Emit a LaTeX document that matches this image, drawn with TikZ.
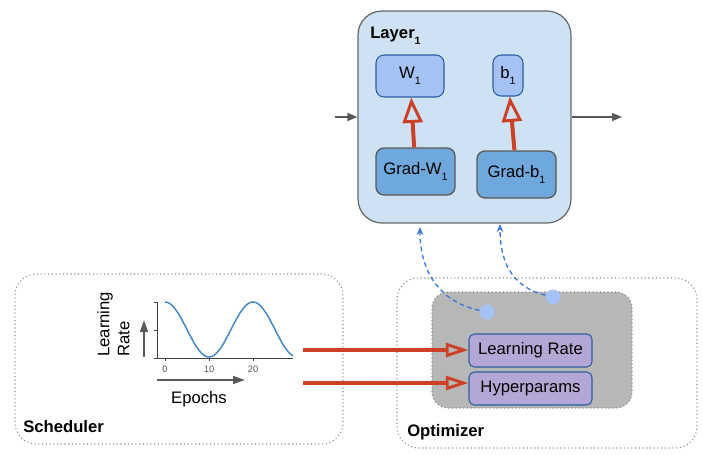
\documentclass[tikz,border=0pt]{standalone}
\usepackage{fontspec}
\setmainfont{Liberation Sans}
\usetikzlibrary{arrows.meta}
\definecolor{layerfill}{HTML}{CFE2F3}
\definecolor{layeredge}{HTML}{666666}
\definecolor{paramfill}{HTML}{A4C2F4}
\definecolor{paramedge}{HTML}{2A5F9E}
\definecolor{gradfill}{HTML}{6FA8DC}
\definecolor{gradedge}{HTML}{595959}
\definecolor{hyperfill}{HTML}{B4A7D6}
\definecolor{corefill}{HTML}{B7B7B7}
\definecolor{coreedge}{HTML}{858585}
\definecolor{groupedge}{HTML}{8A8A8A}
\definecolor{updred}{HTML}{CC4125}
\definecolor{linkblue}{HTML}{3C78D8}
\definecolor{flowgray}{HTML}{595959}
\definecolor{curveblue}{HTML}{3F88C5}
\newcommand\lowsub[1]{\raisebox{-4.5pt}{\fontsize{8}{8}\selectfont #1}}
\tikzset{
  layerbox/.style={draw=layeredge, fill=layerfill, line width=0.9pt, rounded corners=18pt, inner sep=0pt, minimum width=159.75pt, minimum height=159pt},
  param/.style={draw=paramedge, fill=paramfill, line width=0.8pt, rounded corners=6pt, inner sep=0pt},
  grad/.style={draw=gradedge, fill=gradfill, line width=1pt, rounded corners=6pt, inner sep=0pt, minimum width=59.25pt, minimum height=35.25pt},
  hyper/.style={draw=paramedge, fill=hyperfill, line width=0.8pt, rounded corners=4pt, inner sep=0pt, minimum width=92.25pt, minimum height=24.75pt},
  group/.style={draw=groupedge, dotted, line width=0.8pt, rounded corners=16pt, inner sep=0pt, minimum height=127.5pt},
  core/.style={draw=coreedge, dotted, fill=corefill, line width=0.8pt, rounded corners=12pt, inner sep=0pt, minimum width=150pt, minimum height=87pt},
  title/.style={anchor=base west, inner sep=0pt, font=\fontsize{12.5}{15}\selectfont\bfseries},
  dot/.style={circle, fill=paramfill, inner sep=0pt, minimum size=11.25pt},
  update/.style={draw=updred, line width=3pt, -{Triangle[open, length=19pt, width=15pt, line width=2.2pt]}},
  feed/.style={draw=updred, line width=3pt, -{Triangle[open, length=17pt, width=10.5pt, line width=2.2pt]}},
  flow/.style={draw=flowgray, line width=1.1pt, -{Triangle[length=7.5pt, width=6pt]}},
  link/.style={draw=linkblue, line width=1pt, dash pattern=on 3.5pt off 2.5pt, -{Stealth[length=6pt, width=5pt]}},
  axis/.style={draw=black!75, line width=0.6pt},
  ticklabel/.style={inner sep=0pt, text=black!65, font=\fontsize{7}{8}\selectfont},
  curve/.style={draw=curveblue, line width=1.1pt},
  axisarrow/.style={draw=flowgray, line width=1.1pt, -{Triangle[length=9pt, width=6pt]}},
}
\begin{document}
\begin{tikzpicture}[x=0.75pt, y=-0.75pt, font=\fontsize{12.5}{15}\selectfont]
\useasboundingbox (0,0) rectangle (703,454);
\node[layerbox] (layer) at (464.5,117) {};
\node[title] (layertitle) at (370,38) {Layer\lowsub{1}};
\node[param, minimum width=51pt, minimum height=31.5pt] (w) at (410,76) {W\lowsub{1}};
\node[param, minimum width=22.5pt, minimum height=30.75pt] (b) at (508,75.5) {b\lowsub{1}};
\node[grad] (gradw) at (415.5,171.5) {Grad-W\lowsub{1}};
\node[grad] (gradb) at (516.5,174.5) {Grad-b\lowsub{1}};
\draw[update] (gradw) -- (w);
\draw[update] (gradb) -- (b);
\coordinate (xin) at (335,117);
\coordinate (xout) at (622,117);
\draw[flow] (xin) -- (layer.west);
\draw[flow] (layer.east) -- (xout);
\node[group, minimum width=246pt] (sched) at (179,359) {};
\node[title] (schedtitle) at (23,432) {Scheduler};
\node[group, minimum width=225pt] (opt) at (547,363) {};
\node[title] (opttitle) at (407,436) {Optimizer};
\node[core] (optcore) at (532,350) {};
\node[hyper] (lr) at (530.5,350.5) {Learning Rate};
\node[hyper] (hp) at (530.5,388.5) {Hyperparams};
\node[dot] (wdot) at (487,312) {};
\node[dot] (bdot) at (553,297) {};
\coordinate (wtip) at (420,227);
\coordinate (btip) at (500,224);
\draw[link] (wdot) .. controls (440,302) and (420,272) .. (wtip);
\draw[link] (bdot) .. controls (512,287) and (500,262) .. (btip);
\draw[axis] (157,302) -- (157,358) -- (293,358);
\foreach \y in {302,330,358} \draw[axis] (154,\y) -- (157,\y);
\foreach \x/\lab in {165/0,209/10,253/20} {
  \draw[axis] (\x,358) -- (\x,361);
  \node[ticklabel] (tick\lab) at (\x,369.5) {\lab};
}
\draw[curve] plot[domain=165:293, samples=80, smooth] (\x,{329.5-27.5*cos(4.0909*(\x-165))});
\coordinate (lrbase) at (144,357);
\coordinate (lrtop) at (144,320);
\draw[axisarrow] (lrbase) -- (lrtop);
\coordinate (epbase) at (157,380);
\coordinate (eptop) at (245,380);
\draw[axisarrow] (epbase) -- (eptop);
\node[rotate=90, anchor=north west, align=left, inner sep=0pt] (lrlabel) at (97,357) {Learning\\Rate};
\node[anchor=base] (epochs) at (199,403) {Epochs};
\coordinate (lrfeed) at (303,350);
\coordinate (hpfeed) at (303,383);
\draw[feed] (lrfeed) -- (lrfeed -| lr.west);
\draw[feed] (hpfeed) -- (hpfeed -| hp.west);
\end{tikzpicture}
\end{document}
